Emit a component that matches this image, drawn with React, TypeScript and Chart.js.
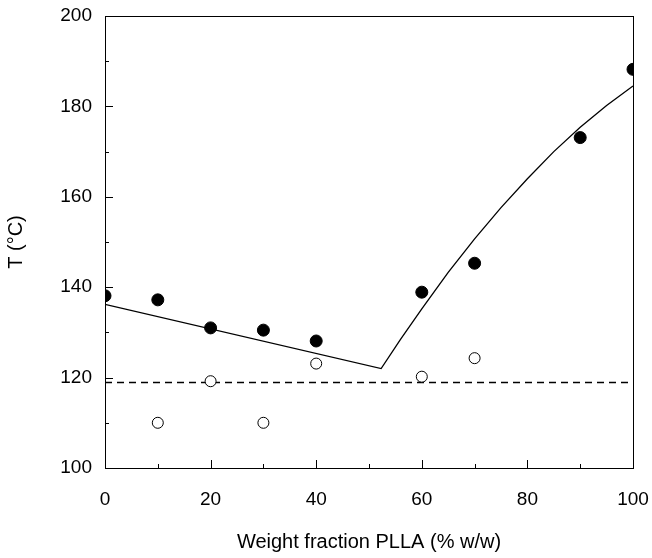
import React, { useEffect, useRef } from "react";
import { Chart, registerables } from "chart.js";

Chart.register(...registerables);

// Filled circles (melting temperature)
const filledX = [0, 10, 20, 30, 40, 60, 70, 90, 100];
const filledY = [138.1, 137.2, 131.0, 130.5, 128.1, 138.9, 145.3, 173.1, 188.2];

// Open circles
const openX = [10, 20, 30, 40, 60, 70];
const openY = [110.0, 119.2, 110.0, 123.1, 120.2, 124.3];

// Solid fitted curve
const curveX = [0, 52.3, 56, 60, 65, 70, 75, 80, 85, 90, 95, 100];
const curveY = [136.2, 122.0, 128.5, 135.2, 143.3, 150.7, 157.6, 164.0, 170.0, 175.4, 180.2, 184.5];

// Dashed horizontal line
const dashX = [0, 100];
const dashY = [118.9, 118.9];

const xTicks = [0, 20, 40, 60, 80, 100];
const yTicks = [100, 120, 140, 160, 180, 200];

const FONT = "'Liberation Sans', Arial, Helvetica, sans-serif";

const toPts = (xs: number[], ys: number[]) => xs.map((x, i) => ({ x, y: ys[i] }));

const framePlugin = {
  id: "frameTicks",
  afterDatasetsDraw(chart: any) {
    const { ctx, chartArea } = chart;
    const xs = chart.scales.x;
    const ys = chart.scales.y;
    ctx.save();
    ctx.strokeStyle = "#000";
    ctx.lineWidth = 1;
    ctx.setLineDash([]);
    ctx.strokeRect(
      Math.round(chartArea.left) + 0.5,
      Math.round(chartArea.top) + 0.5,
      Math.round(chartArea.right - chartArea.left),
      Math.round(chartArea.bottom - chartArea.top)
    );
    ctx.beginPath();
    for (let v = 10; v < 100; v += 10) {
      const px = Math.round(xs.getPixelForValue(v)) + 0.5;
      const len = v % 20 === 0 ? 8 : 4;
      ctx.moveTo(px, chartArea.bottom);
      ctx.lineTo(px, chartArea.bottom - len);
    }
    for (let v = 110; v < 200; v += 10) {
      const py = Math.round(ys.getPixelForValue(v)) + 0.5;
      const len = v % 20 === 0 ? 8 : 4;
      ctx.moveTo(chartArea.left, py);
      ctx.lineTo(chartArea.left + len, py);
    }
    ctx.stroke();
    ctx.restore();
  },
};

export default function App() {
  const ref = useRef<HTMLCanvasElement | null>(null);

  useEffect(() => {
    if (!ref.current) return;
    const chart = new Chart(ref.current, {
      type: "scatter",
      data: {
        datasets: [
          {
            label: "filled",
            data: toPts(filledX, filledY),
            pointRadius: 6,
            pointBackgroundColor: "#000",
            pointBorderColor: "#000",
            pointBorderWidth: 1,
            showLine: false,
          },
          {
            label: "open",
            data: toPts(openX, openY),
            pointRadius: 5.5,
            pointBackgroundColor: "#fff",
            pointBorderColor: "#000",
            pointBorderWidth: 1,
            showLine: false,
          },
          {
            label: "curve",
            data: toPts(curveX, curveY),
            showLine: true,
            borderColor: "#000",
            borderWidth: 1.3,
            pointRadius: 0,
            tension: 0,
          },
          {
            label: "dash",
            data: toPts(dashX, dashY),
            showLine: true,
            borderColor: "#000",
            borderWidth: 1.4,
            borderDash: [7, 5],
            pointRadius: 0,
          },
        ],
      },
      options: {
        animation: false,
        responsive: false,
        maintainAspectRatio: false,
        events: [],
        layout: { padding: { top: 16, right: 19, left: 0, bottom: 0 } },
        plugins: { legend: { display: false }, tooltip: { enabled: false } },
        scales: {
          x: {
            type: "linear",
            min: 0,
            max: 100,
            afterBuildTicks: (s: any) => {
              s.ticks = xTicks.map((v) => ({ value: v }));
            },
            afterFit: (s: any) => {
              s.height = 90;
              s.paddingLeft = 0;
              s.paddingRight = 0;
            },
            grid: { display: false, drawTicks: false },
            border: { display: false },
            ticks: {
              color: "#000",
              font: { family: FONT, size: 19 },
              padding: 20,
              maxRotation: 0,
            },
            title: {
              display: true,
              text: "Weight fraction PLLA (% w/w)",
              color: "#000",
              font: { family: FONT, size: 20 },
              padding: { top: 0, bottom: 4 },
            },
          },
          y: {
            type: "linear",
            min: 100,
            max: 200,
            afterBuildTicks: (s: any) => {
              s.ticks = yTicks.map((v) => ({ value: v }));
            },
            afterFit: (s: any) => {
              s.width = 105;
              s.paddingTop = 0;
              s.paddingBottom = 0;
            },
            grid: { display: false, drawTicks: false },
            border: { display: false },
            ticks: {
              color: "#000",
              font: { family: FONT, size: 19 },
              padding: 13,
            },
            title: {
              display: true,
              text: "T (°C)",
              color: "#000",
              font: { family: FONT, size: 20 },
              padding: { top: 4, bottom: 0 },
            },
          },
        },
      },
      plugins: [framePlugin],
    });
    return () => chart.destroy();
  }, []);

  return (
    <div style={{ position: "fixed", left: 0, top: 0, width: 652, height: 558, background: "#fff" }}>
      <canvas ref={ref} width={652} height={558} style={{ width: 652, height: 558, display: "block" }} />
    </div>
  );
}
